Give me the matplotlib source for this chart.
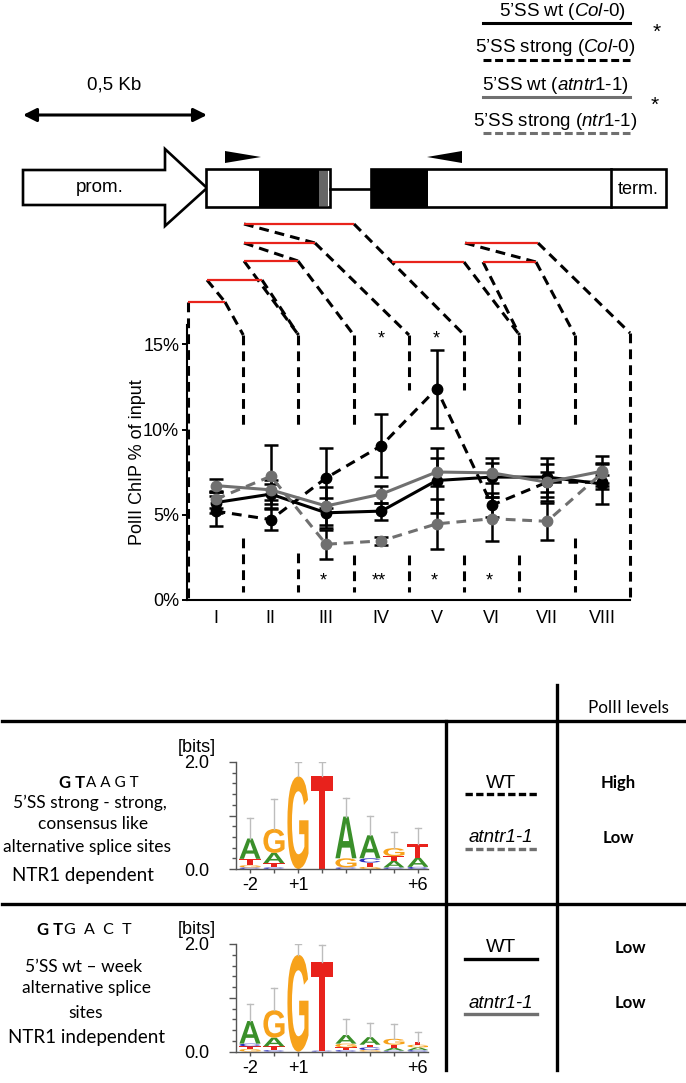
import matplotlib
matplotlib.use('Agg')
import matplotlib.pyplot as plt
from matplotlib.patches import Polygon, Rectangle, PathPatch
from matplotlib.textpath import TextPath
from matplotlib.font_manager import FontProperties
from matplotlib.transforms import Affine2D
import numpy as np

plt.rcParams['font.family'] = ['Liberation Sans', 'DejaVu Sans']
plt.rcParams['mathtext.fontset'] = 'custom'
plt.rcParams['mathtext.rm'] = 'Liberation Sans'
plt.rcParams['mathtext.it'] = 'Liberation Sans:italic'

W, H, DPI = 686, 1083, 100

# ---------------- chart data ----------------
regions = ['I', 'II', 'III', 'IV', 'V', 'VI', 'VII', 'VIII']
wt_col0 = [5.7, 6.2, 5.1, 5.2, 7.0, 7.2, 7.2, 6.8]
wt_col0_err = [0.6, 0.6, 0.9, 0.5, 1.9, 1.15, 1.15, 1.2]
strong_col0 = [5.2, 4.7, 7.15, 9.05, 12.4, 5.55, 6.9, 6.9]
strong_col0_err = [0.9, 0.6, 1.75, 1.85, 2.3, 0.7, 0.6, 0.4]
wt_ntr = [6.7, 6.45, 5.5, 6.2, 7.5, 7.45, 6.9, 7.55]
wt_ntr_err = [0.4, 0.6, 1.1, 0.5, 0.85, 0.6, 1.1, 0.9]
strong_ntr = [5.9, 7.25, 3.25, 3.45, 4.45, 4.75, 4.6, 7.45]
strong_ntr_err = [0.5, 1.85, 0.85, 0.25, 1.45, 1.3, 1.1, 0.6]
yticks = [0, 5, 10, 15]
ytick_labels = ['0%', '5%', '10%', '15%']
stars_top = [('IV', '*'), ('V', '*')]
stars_bottom = [('III', '*'), ('IV', '**'), ('V', '*'), ('VI', '*')]

legend_labels = ["5\u2019SS wt ($\\mathit{Col}$-$\\mathit{0}$)",
                 "5\u2019SS strong ($\\mathit{Col}$-$\\mathit{0}$)",
                 "5\u2019SS wt ($\\mathit{atntr1}$-$\\mathit{1}$)",
                 "5\u2019SS strong ($\\mathit{ntr1}$-$\\mathit{1}$)"]

# ---------------- sequence logo data ----------------
logo_positions = ['-2', '-1', '+1', '+2', '+3', '+4', '+5', '+6']
logo_shown_labels = ['-2', '', '+1', '', '', '', '', '+6']
strong_stacks = [
    [('C', 0.03), ('G', 0.04), ('T', 0.12), ('A', 0.38)],
    [('C', 0.03), ('T', 0.08), ('A', 0.19), ('G', 0.45)],
    [('G', 1.73)],
    [('T', 1.73)],
    [('C', 0.03), ('G', 0.17), ('A', 0.78)],
    [('G', 0.04), ('T', 0.08), ('C', 0.08), ('A', 0.43)],
    [('C', 0.03), ('A', 0.12), ('T', 0.09), ('G', 0.15)],
    [('C', 0.04), ('A', 0.17), ('T', 0.25)],
]
strong_err = [0.95, 1.3, 2.0, 2.0, 1.32, 1.0, 0.7, 0.76]
wt_stacks = [
    [('G', 0.05), ('T', 0.05), ('C', 0.05), ('A', 0.42)],
    [('C', 0.03), ('T', 0.07), ('A', 0.16), ('G', 0.51)],
    [('G', 1.8)],
    [('C', 0.02), ('T', 1.64)],
    [('C', 0.03), ('T', 0.05), ('G', 0.07), ('A', 0.16)],
    [('G', 0.03), ('C', 0.05), ('T', 0.05), ('A', 0.14)],
    [('C', 0.02), ('A', 0.05), ('T', 0.06), ('G', 0.11)],
    [('C', 0.03), ('A', 0.05), ('G', 0.05), ('T', 0.05)],
]
wt_err = [0.89, 1.18, 2.0, 1.98, 0.6, 0.54, 0.51, 0.37]
base_colors = {'A': '#3a8f2a', 'G': '#f7a21b', 'T': '#e8221c', 'C': '#2b2fbf'}

BLACK = 'black'
GRAY = '#707070'
RED = '#e8231b'

fig = plt.figure(figsize=(W / DPI, H / DPI), dpi=DPI)
fig.patch.set_facecolor('white')

# overlay axes in image pixel coordinates
ov = fig.add_axes([0, 0, 1, 1], zorder=1)
ov.set_xlim(0, W)
ov.set_ylim(H, 0)
ov.axis('off')


def fx(px):
    return px / W


def fy(py):
    return 1 - py / H


# ---------------- chart axes ----------------
ax_l, ax_r, ax_t, ax_b = 187, 630, 325, 599.5
ax = fig.add_axes([fx(ax_l), fy(ax_b), (ax_r - ax_l) / W, (ax_b - ax_t) / H], zorder=3)
ax.patch.set_alpha(0)
x = np.arange(1, len(regions) + 1)
ax.set_xlim(0.482, 8.5)
ax.set_ylim(0, (ax_b - ax_t) / 17.0)

dash_style = (0, (3.2, 2.2))
series = [
    (wt_col0, wt_col0_err, BLACK, '-'),
    (strong_col0, strong_col0_err, BLACK, dash_style),
    (wt_ntr, wt_ntr_err, GRAY, '-'),
    (strong_ntr, strong_ntr_err, GRAY, dash_style),
]
for vals, errs, col, ls in series:
    ax.errorbar(x, vals, yerr=errs, color=col, ecolor='black', elinewidth=1.8,
                capsize=5, capthick=1.8, marker='o', ms=7.5, lw=2.2,
                linestyle=ls, mfc=col, mec=col, zorder=4)

ax.set_xticks(x)
ax.set_xticklabels(regions)
ax.set_yticks(yticks)
ax.set_yticklabels(ytick_labels)
ax.tick_params(axis='x', length=0, labelsize=13, pad=7.5)
ax.tick_params(axis='y', length=3.6, width=1.4, labelsize=13, pad=2)
for s in ['top', 'right']:
    ax.spines[s].set_visible(False)
for s in ['left', 'bottom']:
    ax.spines[s].set_linewidth(1.5)
ax.set_ylabel('PolII ChIP % of input', fontsize=13)
ax.yaxis.set_label_coords((146 - ax_l) / (ax_r - ax_l), 0.5)

ridx = {r: i + 1 for i, r in enumerate(regions)}
for r, s in stars_top:
    ax.text(ridx[r], 15.3, s, ha='center', va='center', fontsize=13)
for r, s in stars_bottom:
    ax.text(ridx[r] - 0.05, 1.1, s, ha='center', va='center', fontsize=13)

# boundary pixel positions from the chart scale
bx = [ax.transData.transform((b, 0))[0] for b in np.arange(0.5, 9.0, 1.0)]

# ---------------- gene diagram ----------------
lw_px = 1.9
prom = Polygon([(23, 170), (165, 170), (165, 149), (207, 188), (165, 226), (165, 205), (23, 205)],
               closed=True, facecolor='white', edgecolor='black', lw=lw_px, joinstyle='miter')
ov.add_patch(prom)
ov.text(100, 188, 'prom.', ha='center', va='center', fontsize=13.5)
ov.add_patch(Rectangle((206, 169), 124, 38, facecolor='white', edgecolor='none'))
ov.add_patch(Rectangle((259, 169), 60, 38, facecolor='black', edgecolor='none'))
ov.add_patch(Rectangle((319, 170), 9, 36, facecolor='#666666', edgecolor='none'))
ov.add_patch(Rectangle((206, 169), 124, 38, facecolor='none', edgecolor='black', lw=lw_px))
ov.plot([330, 371], [189, 189], color='black', lw=lw_px)
ov.add_patch(Rectangle((371, 169), 57, 38, facecolor='black', edgecolor='none'))
ov.add_patch(Rectangle((371, 169), 295, 38, facecolor='none', edgecolor='black', lw=lw_px))
ov.plot([611, 611], [169, 207], color='black', lw=lw_px)
ov.text(638, 189, 'term.', ha='center', va='center', fontsize=13)
ov.add_patch(Polygon([(225, 151), (225, 163), (261, 157)], closed=True, facecolor='black'))
ov.add_patch(Polygon([(462, 151), (462, 163), (427, 157)], closed=True, facecolor='black'))

# scale bar
ov.annotate('', xy=(23, 115), xytext=(207, 115),
            arrowprops=dict(arrowstyle='<|-|>', lw=2.2, color='black',
                            mutation_scale=20, shrinkA=0, shrinkB=0))
ov.text(114, 85, '0,5 Kb', ha='center', va='center', fontsize=13.5)

# legend (top right)
leg_y_text = [12, 48, 86, 122]
leg_y_line = [23, 60, 97, 133]
leg_x_text = [562, 555, 555, 555]
leg_styles = [(BLACK, '-'), (BLACK, (0, (2.6, 1.2))), (GRAY, '-'), (GRAY, (0, (2.6, 1.2)))]
for lab, yt, yl, xt, (c, ls) in zip(legend_labels, leg_y_text, leg_y_line, leg_x_text, leg_styles):
    ov.text(xt, yt, lab, ha='center', va='center', fontsize=13.5)
    ov.plot([483, 630], [yl, yl], color=c, lw=2.2, linestyle=ls)
ov.text(657, 32, '*', ha='center', va='center', fontsize=15)
ov.text(655, 105, '*', ha='center', va='center', fontsize=15)

# amplicons and connectors
amplicons = [(188, 225, 302), (207, 262, 280), (244, 298, 261), (244, 315, 243),
             (244, 354, 224), (392, 464, 262), (483, 536, 262), (465, 538, 243)]
conn_ls = (0, (3.2, 2.0))
conn = [
    [(225, 302), (bx[1], 335)],
    [(207, 280), (225, 302)],
    [(262, 280), (bx[2], 335)],
    [(244, 261), (bx[2], 335)],
    [(298, 261), (bx[3], 335)],
    [(244, 243), (298, 261)],
    [(315, 243), (bx[4], 335)],
    [(244, 224), (315, 243)],
    [(354, 224), (bx[5], 335)],
    [(464, 262), (bx[6], 335)],
    [(483, 262), (bx[6], 335)],
    [(536, 262), (bx[7], 335)],
    [(465, 243), (536, 262)],
    [(538, 243), (bx[8], 333)],
]
for seg in conn:
    xs, ys = zip(*seg)
    ov.plot(xs, ys, color='black', lw=2.2, linestyle=conn_ls, zorder=2)
ov.plot([bx[0], bx[0]], [302, 598], color='black', lw=2.2, linestyle=conn_ls, zorder=2)
ov.plot([bx[8], bx[8]], [333, 598], color='black', lw=2.2, linestyle=conn_ls, zorder=2)
top_end = [None, 427, 427, 427, 390, 390, 427, 427]
bot_start = [None, 538, 553, 555, 555, 555, 555, 538]
for i in range(1, 8):
    ov.plot([bx[i], bx[i]], [335, top_end[i]], color='black', lw=2.2, linestyle=conn_ls, zorder=2)
    ov.plot([bx[i], bx[i]], [bot_start[i], 592], color='black', lw=2.2, linestyle=conn_ls, zorder=2)
for x0, x1, y in amplicons:
    ov.plot([x0, x1], [y, y], color=RED, lw=1.6, zorder=3, solid_capstyle='butt')

# ---------------- table ----------------
ov.plot([2, 686], [721, 721], color='black', lw=2.4)
ov.plot([2, 686], [904, 904], color='black', lw=2.4)
ov.plot([446, 446], [721, 1070], color='black', lw=2.4)
ov.plot([557, 557], [685, 1070], color='black', lw=2.4)

TF = 'Lato'
ov.text(628, 708, 'PolII levels', ha='center', va='center', fontsize=12.3, family=TF)
ov.text(618, 783, 'High', ha='center', va='center', fontsize=12, family=TF, weight='bold')
ov.text(618, 838, 'Low', ha='center', va='center', fontsize=12, family=TF, weight='bold')
ov.text(630, 948, 'Low', ha='center', va='center', fontsize=12, family=TF, weight='bold')
ov.text(630, 1003, 'Low', ha='center', va='center', fontsize=12, family=TF, weight='bold')

ov.text(501, 783, 'WT', ha='center', va='center', fontsize=14)
ov.plot([465, 537], [794, 794], color=BLACK, lw=2.4, linestyle=(0, (2.2, 1.0)))
ov.text(501, 837, 'atntr1-1', ha='center', va='center', fontsize=13.5, style='italic')
ov.plot([465, 537], [849, 849], color=GRAY, lw=2.4, linestyle=(0, (2.2, 1.0)))
ov.text(501, 948, 'WT', ha='center', va='center', fontsize=14)
ov.plot([465, 537], [959, 959], color=BLACK, lw=2.4)
ov.text(501, 1003, 'atntr1-1', ha='center', va='center', fontsize=13.5, style='italic')
ov.plot([465, 537], [1014, 1014], color=GRAY, lw=2.4)

# row 1 description
ov.text(85, 783, 'G T', ha='right', va='center', fontsize=12, family=TF, weight='bold')
ov.text(86, 783, 'A A G T', ha='left', va='center', fontsize=11, family=TF)
ov.text(90, 803, '5\u2019SS strong - strong,', ha='center', va='center', fontsize=12.5, family=TF)
ov.text(93, 824, 'consensus like', ha='center', va='center', fontsize=12.5, family=TF)
ov.text(87, 847, 'alternative splice sites', ha='center', va='center', fontsize=12.5, family=TF)
ov.text(83, 876, 'NTR1 dependent', ha='center', va='center', fontsize=13.5, family=TF)
# row 2 description
ov.text(63, 930, 'G T', ha='right', va='center', fontsize=12, family=TF, weight='bold')
ov.text(64, 930, 'G  A  C  T', ha='left', va='center', fontsize=11.5, family=TF)
ov.text(84, 967, '5\u2019SS wt \u2013 week', ha='center', va='center', fontsize=12.5, family=TF)
ov.text(86, 988, 'alternative splice', ha='center', va='center', fontsize=12.5, family=TF)
ov.text(86, 1013, 'sites', ha='center', va='center', fontsize=12.5, family=TF)
ov.text(86, 1038, 'NTR1 independent', ha='center', va='center', fontsize=13.5, family=TF)

# ---------------- sequence logos ----------------
LOGO_FP = FontProperties(family='Liberation Sans', weight='bold')
_glyphs = {}


def draw_letter(lax, letter, xc, y0, w, h, color):
    if letter not in _glyphs:
        _glyphs[letter] = TextPath((0, 0), letter, size=1, prop=LOGO_FP)
    tp = _glyphs[letter]
    bb = tp.get_extents()
    t = Affine2D().translate(-bb.x0, -bb.y0).scale(w / bb.width, h / bb.height).translate(xc - w / 2, y0)
    lax.add_patch(PathPatch(t.transform_path(tp), facecolor=color, edgecolor='none', lw=0))


def draw_logo(top_px, base_px, stacks, errs):
    left_px, right_px = 236, 428
    lax = fig.add_axes([fx(left_px), fy(base_px), (right_px - left_px) / W, (base_px - top_px) / H], zorder=3)
    lax.patch.set_alpha(0)
    lax.set_xlim(-0.583, 7.42)
    lax.set_ylim(0, 2.0)
    for i, stack in enumerate(stacks):
        y0 = 0.0
        for letter, h in stack:
            draw_letter(lax, letter, i, y0, 0.88, h, base_colors[letter])
            y0 += h
        lax.plot([i, i], [y0, errs[i]], color='#bdbdbd', lw=1.0, zorder=1)
        lax.plot([i - 0.13, i + 0.13], [errs[i], errs[i]], color='#bdbdbd', lw=1.0, zorder=1)
    for s in ['top', 'right']:
        lax.spines[s].set_visible(False)
    for s in ['left', 'bottom']:
        lax.spines[s].set_linewidth(1.0)
        lax.spines[s].set_color('#555555')
    lax.set_yticks([0, 1, 2])
    lax.set_yticklabels(['0.0', '', '2.0'])
    lax.set_yticks(np.arange(0.2, 2.0, 0.2), minor=True)
    lax.tick_params(axis='y', which='major', length=5, width=1, color='#555555', labelsize=13, pad=14)
    lax.tick_params(axis='y', which='minor', length=3, width=1, color='#555555')
    lax.set_xticks(range(len(logo_positions)))
    lax.set_xticklabels(logo_shown_labels)
    lax.tick_params(axis='x', length=3, width=1, color='#555555', labelsize=13, pad=3)
    ov.text(197, top_px - 14, '[bits]', ha='center', va='center', fontsize=13)
    return lax


draw_logo(762, 869, strong_stacks, strong_err)
draw_logo(944, 1051.7, wt_stacks, wt_err)

fig.savefig('out.png', dpi=DPI, facecolor='white')
